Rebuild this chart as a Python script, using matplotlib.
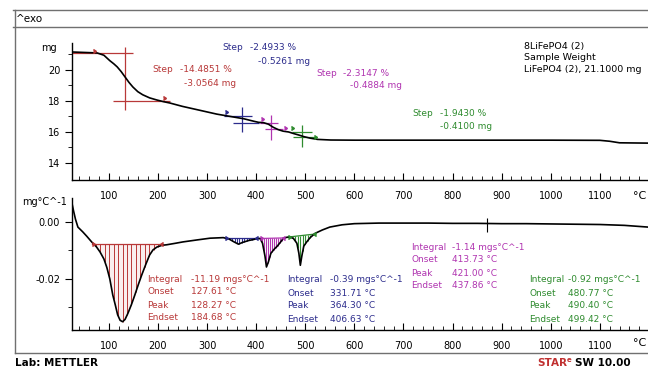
import numpy as np
import matplotlib
matplotlib.use("Agg")
import matplotlib.pyplot as plt
from matplotlib.lines import Line2D

plt.rcParams['font.family'] = ['DejaVu Sans']
plt.rcParams['axes.unicode_minus'] = False

W, H = 648, 369

# ---------------- data ----------------
tga_T = [25, 50, 76, 90, 102, 110, 117, 125, 133, 141, 149, 159, 169, 183, 198, 212, 224,
         250, 285, 320, 353, 375, 394, 405, 415, 425, 435, 445, 455, 466, 476, 487, 497,
         510, 525, 552, 600, 700, 800, 900, 1000, 1100, 1120, 1140, 1198]
tga_mg = [21.16, 21.13, 21.1, 20.95, 20.6, 20.4, 20.2, 19.9, 19.55, 19.2, 18.9, 18.6, 18.4,
          18.2, 18.06, 17.95, 17.87, 17.65, 17.4, 17.15, 16.97, 16.85, 16.7, 16.62, 16.6,
          16.5, 16.3, 16.15, 16.05, 16.0, 15.9, 15.8, 15.7, 15.6, 15.52, 15.48, 15.47,
          15.47, 15.47, 15.47, 15.47, 15.46, 15.4, 15.3, 15.28]

dsc_T = [25, 28, 32, 37, 47, 55, 65, 75, 82, 90, 96, 102, 108, 113, 118, 123, 128, 133, 139,
         146, 153, 160, 167, 175, 183, 190, 198, 208, 218, 235, 251, 280, 306, 333, 345, 355,
         364, 372, 385, 394, 402, 408, 413, 418, 421, 425, 430, 437, 443, 450, 455, 462, 469,
         476, 483, 487, 490, 493, 497, 503, 510, 520, 535, 550, 575, 600, 650, 700, 750, 800,
         850, 900, 950, 1000, 1050, 1100, 1150, 1198]
dsc_v = [0.0065, 0.004, 0.001, -0.0018, -0.0035, -0.005, -0.007, -0.0088, -0.0105, -0.013,
         -0.016, -0.020, -0.0256, -0.029, -0.0326, -0.0345, -0.035, -0.0342, -0.032, -0.029,
         -0.0256, -0.022, -0.0186, -0.015, -0.0116, -0.0098, -0.0088, -0.0082, -0.008,
         -0.0075, -0.007, -0.0063, -0.0057, -0.0055, -0.006, -0.007, -0.0078, -0.0072,
         -0.0065, -0.0062, -0.0058, -0.0058, -0.0075, -0.012, -0.0158, -0.014, -0.011,
         -0.0095, -0.0085, -0.007, -0.0058, -0.0054, -0.0053, -0.0058, -0.0075, -0.011,
         -0.0152, -0.012, -0.0085, -0.007, -0.0055, -0.004, -0.0028, -0.0018, -0.001,
         -0.0006, -0.0004, -0.0004, -0.0004, -0.0005, -0.0005, -0.0006, -0.0006, -0.0007,
         -0.0008, -0.0009, -0.0012, -0.0018]

x_ticks = [100, 200, 300, 400, 500, 600, 700, 800, 900, 1000, 1100]
tga_yticks = [14, 16, 18, 20]
dsc_yticks = [-0.02, 0.00]
dsc_ytick_labels = ['-0.02', '0.00']

# step evaluations (TGA)
step_colors = ['#b83838', '#2c2c8c', '#b034b0', '#2e8b2e']
step_pct = ['-14.4851 %', '-2.4933 %', '-2.3147 %', '-1.9430 %']
step_mg = ['-3.0564 mg', '-0.5261 mg', '-0.4884 mg', '-0.4100 mg']
step_vT = [133, 371, 430, 493]
step_vrange = [(21.5, 17.4), (17.6, 16.0), (17.1, 15.5), (16.45, 15.0)]
step_top = [(21.1, 20, 150), (17.0, 335, 392), (16.6, 408, 444), (16.0, 473, 513)]
step_bot = [(18.0, 108, 224), (16.6, 352, 405), (16.2, 418, 455), (15.68, 475, 524)]
flag_T = [67, 210, 336, 410, 456, 471, 518]
flag_mg = [21.2, 18.2, 17.3, 16.85, 16.25, 16.25, 15.7]
flag_c = [0, 0, 1, 2, 2, 3, 3]

# DSC peak integrations
peak_limits = [(65, 210), (336, 404), (408, 458), (465, 522)]
peak_base = [(-0.0078, -0.0078), (-0.0058, -0.0058), (-0.0058, -0.0056), (-0.0053, -0.0042)]
peak_integral = ['-11.19 mgs°C^-1', '-0.39 mgs°C^-1', '-1.14 mgs°C^-1', '-0.92 mgs°C^-1']
peak_onset = ['127.61 °C', '331.71 °C', '413.73 °C', '480.77 °C']
peak_peak = ['128.27 °C', '364.30 °C', '421.00 °C', '490.40 °C']
peak_endset = ['184.68 °C', '406.63 °C', '437.86 °C', '499.42 °C']
peak_step = [9, 5, 4, 5]

FS = 6.5

# ---------------- figure ----------------
fig = plt.figure(figsize=(W / 100, H / 100), dpi=100)


def fx(px):
    return px / W


def fy(py):
    return 1 - py / H


frame_c = '#707070'
for (x0, y0, x1, y1) in [(13, 10, W, 10), (13, 27, W, 27), (15, 10, 15, 353), (15, 353, W, 353)]:
    fig.add_artist(Line2D([fx(x0), fx(x1)], [fy(y0), fy(y1)], color=frame_c, lw=1.0))
fig.text(fx(16), fy(19), '^exo', fontsize=7.5, va='center', ha='left')
fig.text(fx(15), fy(363), 'Lab: METTLER', fontsize=7.5, va='center', ha='left', fontweight='bold')
fig.text(fx(537), fy(363), 'STAR', fontsize=7.5, va='center', ha='left', fontweight='bold', color='#c03030')
fig.text(fx(567), fy(360), 'e', fontsize=5, va='center', ha='left', fontweight='bold', color='#c03030')
fig.text(fx(575), fy(363), 'SW 10.00', fontsize=7.5, va='center', ha='left', fontweight='bold')

ax1 = fig.add_axes([fx(72), fy(180), fx(W) - fx(72), fy(43) - fy(180)])
ax2 = fig.add_axes([fx(72), fy(330), fx(W) - fx(72), fy(198) - fy(330)])

for ax in (ax1, ax2):
    ax.set_xlim(25, 1198)
    for s in ('top', 'right'):
        ax.spines[s].set_visible(False)
    ax.spines['left'].set_linewidth(1.0)
    ax.spines['bottom'].set_linewidth(1.0)
    ax.set_xticks(x_ticks)
    ax.set_xticks(np.arange(40, 1200, 20), minor=True)
    ax.tick_params(axis='x', which='major', direction='in', length=5, width=0.8, labelsize=7, pad=8)
    ax.tick_params(axis='x', which='minor', direction='in', length=3, width=0.6)
    ax.tick_params(axis='y', which='major', direction='out', length=5, width=0.8, labelsize=7)
    ax.tick_params(axis='y', which='minor', direction='out', length=3, width=0.6)
    ax.patch.set_alpha(0)

# ---- TGA ----
ax1.set_ylim(12.9, 21.74)
ax1.set_yticks(tga_yticks)
ax1.set_yticks([15, 17, 19, 21], minor=True)
ax1.set_yticklabels([f'{v}' for v in tga_yticks])
ax1.plot(tga_T, tga_mg, color='black', lw=1.2, zorder=5)
for i in range(4):
    c = step_colors[i]
    ax1.vlines(step_vT[i], step_vrange[i][1], step_vrange[i][0], color=c, lw=0.9)
    ax1.hlines(step_top[i][0], step_top[i][1], step_top[i][2], color=c, lw=0.9)
    ax1.hlines(step_bot[i][0], step_bot[i][1], step_bot[i][2], color=c, lw=0.9)
for t, m, ci in zip(flag_T, flag_mg, flag_c):
    ax1.plot([t], [m], marker=9, color=step_colors[ci], ms=3, zorder=6)

fig.text(fx(57), fy(48), 'mg', fontsize=7, va='center', ha='right')
fig.text(fx(640), fy(196), '°C', fontsize=8, va='center', ha='center')
fig.text(fx(640), fy(343), '°C', fontsize=8, va='center', ha='center')

# step texts: (Step x, y, pct x, mg x)
step_txt_pos = [(152, 70, 180, 184), (222, 48, 250, 258), (316, 73, 343, 350), (412, 113, 440, 440)]
for i, (xs, ys, xp, xm) in enumerate(step_txt_pos):
    c = step_colors[i]
    fig.text(fx(xs), fy(ys), 'Step', fontsize=FS, color=c, va='center', ha='left')
    fig.text(fx(xp), fy(ys), step_pct[i], fontsize=FS, color=c, va='center', ha='left')
    fig.text(fx(xm), fy(ys + 13), step_mg[i], fontsize=FS, color=c, va='center', ha='left')

for k, line in enumerate(['8LiFePO4 (2)', 'Sample Weight', 'LiFePO4 (2), 21.1000 mg']):
    fig.text(fx(524), fy(46 + 12 * k), line, fontsize=6.8, va='center', ha='left')

# ---- DSC ----
ax2.set_ylim(-0.0379, 0.0084)
ax2.set_yticks(dsc_yticks)
ax2.set_yticks([-0.03, -0.01], minor=True)
ax2.set_yticklabels(dsc_ytick_labels)
ax2.plot(dsc_T, dsc_v, color='black', lw=1.2, zorder=5)
ax2.vlines([870], -0.0035, 0.0015, color='black', lw=0.8)

for i in range(4):
    c = step_colors[i]
    t0, t1 = peak_limits[i]
    b0, b1 = peak_base[i]
    tt = np.arange(t0, t1 + 0.1, peak_step[i])
    curve = np.interp(tt, dsc_T, dsc_v)
    base = np.interp(tt, [t0, t1], [b0, b1])
    ax2.vlines(tt, curve, base, color=c, lw=0.7, zorder=3)
    tf = np.linspace(t0, t1, 200)
    ax2.fill_between(tf, np.interp(tf, dsc_T, dsc_v), np.interp(tf, [t0, t1], [b0, b1]),
                     color=c, alpha=0.08, lw=0)
    ax2.plot([t0, t1], [b0, b1], color=c, lw=0.9, zorder=4)
    ax2.plot([t0], [b0], marker=9, color=c, ms=3, zorder=6)
    ax2.plot([t1], [b1], marker=8, color=c, ms=3, zorder=6)

fig.text(fx(22), fy(202), 'mg°C^-1', fontsize=7, va='center', ha='left')

peak_txt_pos = [(147, 279, 191), (287, 280, 330), (411, 247, 452), (529, 280, 568)]
labels = ['Integral', 'Onset', 'Peak', 'Endset']
for i, (xl, yl, xv) in enumerate(peak_txt_pos):
    c = step_colors[i]
    vals = [peak_integral[i], peak_onset[i], peak_peak[i], peak_endset[i]]
    for k in range(4):
        fig.text(fx(xl), fy(yl + 13 * k), labels[k], fontsize=FS, color=c, va='center', ha='left')
        fig.text(fx(xv), fy(yl + 13 * k), vals[k], fontsize=FS, color=c, va='center', ha='left')

fig.savefig('out.png', dpi=100)
